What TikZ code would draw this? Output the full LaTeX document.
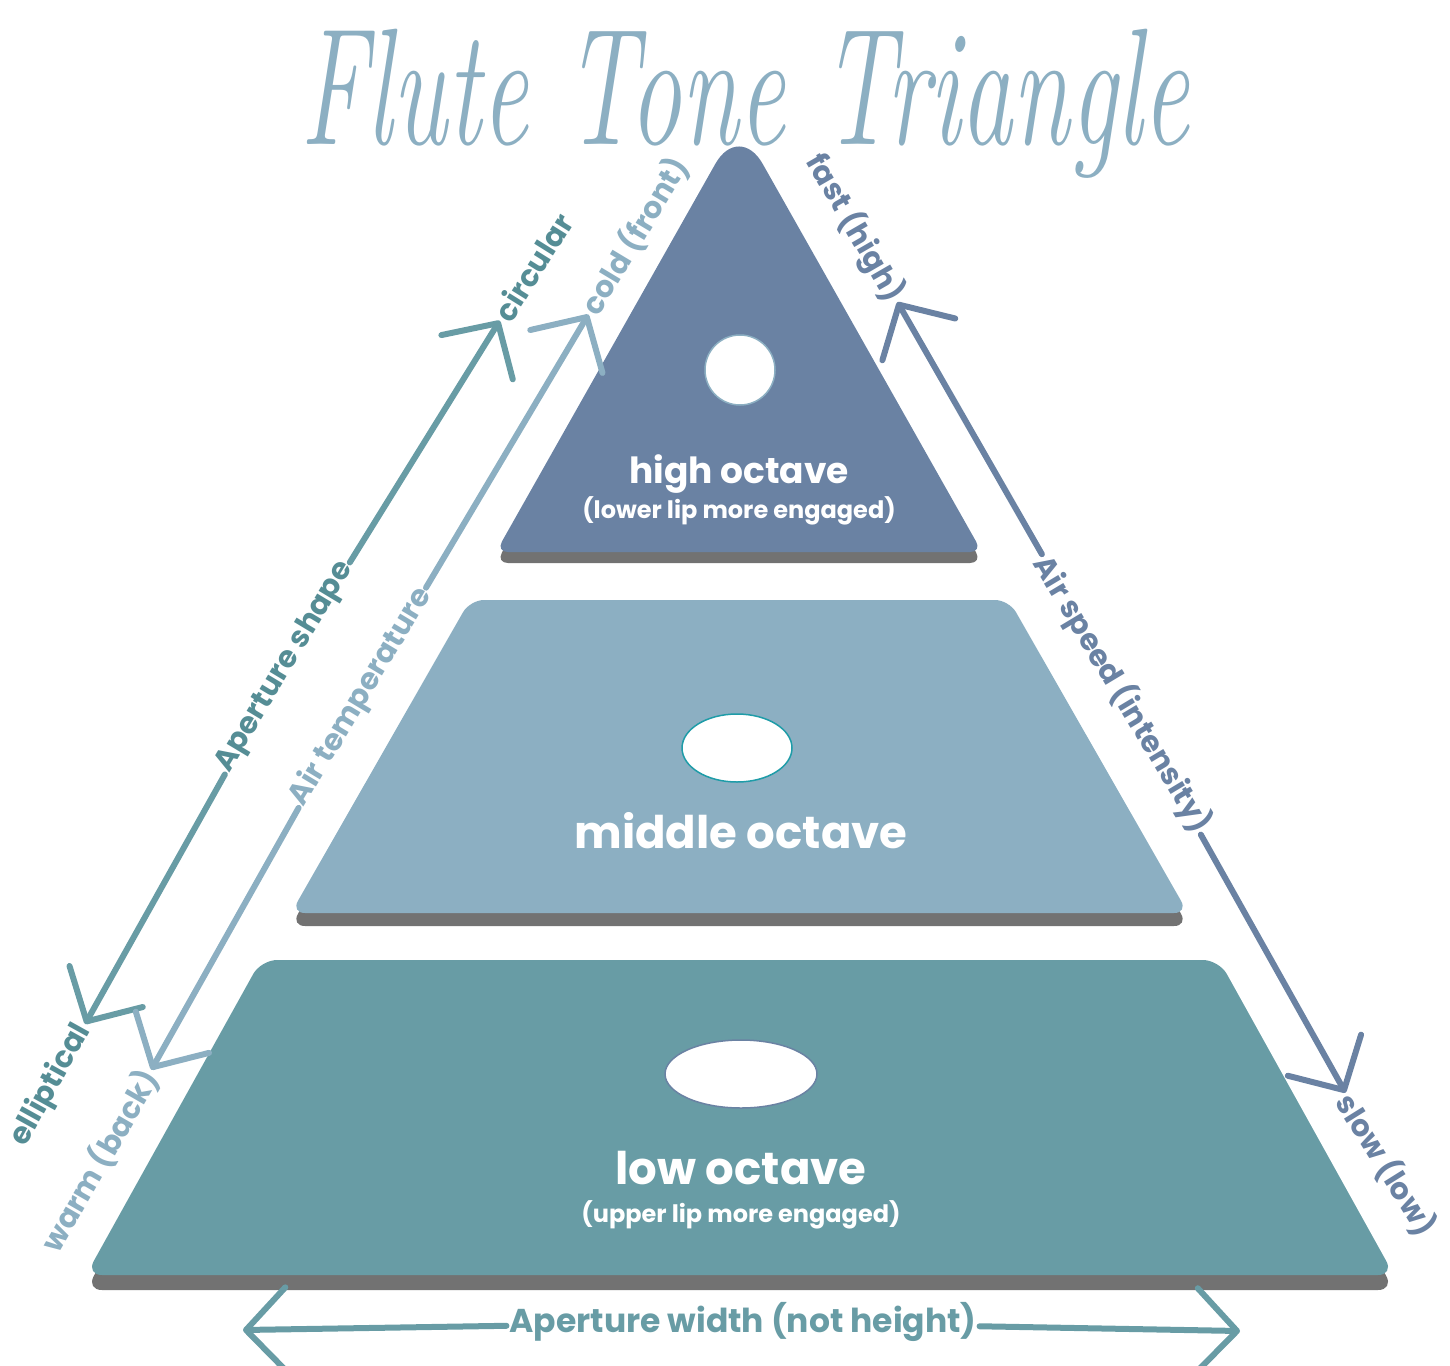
\documentclass[tikz,border=0pt]{standalone}
\usepackage{fontspec}
\setsansfont{Poppins}
\usetikzlibrary{arrows.meta,positioning}

\definecolor{highblue}{HTML}{6A82A3}
\definecolor{midblue}{HTML}{8CAFC2}
\definecolor{lowteal}{HTML}{689CA5}
\definecolor{darkteal}{HTML}{558D95}
\definecolor{shadowgray}{HTML}{727272}
\definecolor{holeteal}{HTML}{1E9CA8}

\begin{document}
\begin{tikzpicture}[x=1pt,y=-1pt,
    octave/.style={text=white,font=\sffamily\bfseries\fontsize{45}{45}\selectfont,anchor=base},
    sub/.style={text=white,font=\sffamily\bfseries\fontsize{24}{24}\selectfont,anchor=base},
    side/.style={font=\sffamily\bfseries\fontsize{30}{30}\selectfont,inner sep=3pt,outer sep=0pt},
    sketch/.style={line width=6pt,line cap=round,-{Straight Barb[length=40pt,width=84pt,round]}},
    hole/.style={fill=white,line width=1.5pt}]
  \useasboundingbox (0,0) rectangle (1450,1365);

  % title
  \node[text=midblue,inner sep=0pt,font=\rmfamily\itshape\fontsize{104}{104}\selectfont,yscale=1.6] (title) at (745,104) {Flute Tone Triangle};

  % three layers, grey shadow first
  \foreach \dy/\col in {15/shadowgray,0/lowteal}
    \fill[\col,rounded corners=16pt,shift={(0,\dy)}] (86,1275) -- (261,960) -- (1219,960) -- (1394,1275) -- cycle;
  \foreach \dy/\col in {13/shadowgray,0/midblue}
    \fill[\col,rounded corners=14pt,shift={(0,\dy)}] (291,913) -- (470,600) -- (1009,600) -- (1188,913) -- cycle;
  \foreach \dy/\col in {11/shadowgray,0/highblue}
    \fill[\col,rounded corners=12pt,shift={(0,\dy)}] (739,552) -- (982,552) [rounded corners=48pt] -- (739,122) [rounded corners=12pt] -- (496,552) -- cycle;

  % aperture holes
  \draw[hole,draw=midblue] (740,370) circle (35pt);
  \draw[hole,draw=holeteal] (737,748) ellipse (55pt and 34pt);
  \draw[hole,draw=highblue] (741,1074) ellipse (76pt and 34pt);

  \node[octave,font=\sffamily\bfseries\fontsize{36}{36}\selectfont] (high) at (739,483) {high octave};
  \node[sub] (highsub) at (739,518) {(lower lip more engaged)};
  \node[octave] (middle) at (741,848) {middle octave};
  \node[octave] (low) at (741,1184) {low octave};
  \node[sub] (lowsub) at (741,1222) {(upper lip more engaged)};

  % side labels
  \node[side,text=darkteal,rotate=58] (circ) at (533,267) {circular};
  \node[side,text=darkteal,rotate=59] (apshape) at (285,667) {Aperture shape};
  \node[side,text=darkteal,rotate=61] (ellip) at (51,1085) {elliptical};
  \node[side,text=midblue,rotate=59] (cold) at (635,236) {cold (front)};
  \node[side,text=midblue,rotate=59] (airtemp) at (361,697) {Air temperature};
  \node[side,text=midblue,rotate=60] (warm) at (100,1161) {warm (back)};
  \node[side,text=highblue,rotate=-60] (fast) at (855,228) {fast (high)};
  \node[side,text=highblue,rotate=-59] (airspeed) at (1122,694) {Air speed (intensity)};
  \node[side,text=highblue,rotate=-58] (slow) at (1386,1165) {slow (low)};
  \node[side,text=lowteal,font=\sffamily\bfseries\fontsize{33}{33}\selectfont] (apwidth) at (743,1322) {Aperture width (not height)};
  \coordinate (wleft) at (243,1330);
  \coordinate (wright) at (1240,1331);

  % arrows
  \draw[sketch,lowteal] (apshape) -- (circ);
  \draw[sketch,lowteal] (apshape) -- (ellip);
  \draw[sketch,midblue] (airtemp) -- (cold);
  \draw[sketch,midblue] (airtemp) -- (warm);
  \draw[sketch,highblue] (airspeed) -- (fast);
  \draw[sketch,highblue] (airspeed) -- (slow);
  \draw[sketch,lowteal] (apwidth) -- (wleft);
  \draw[sketch,lowteal] (apwidth) -- (wright);
\end{tikzpicture}
\end{document}
